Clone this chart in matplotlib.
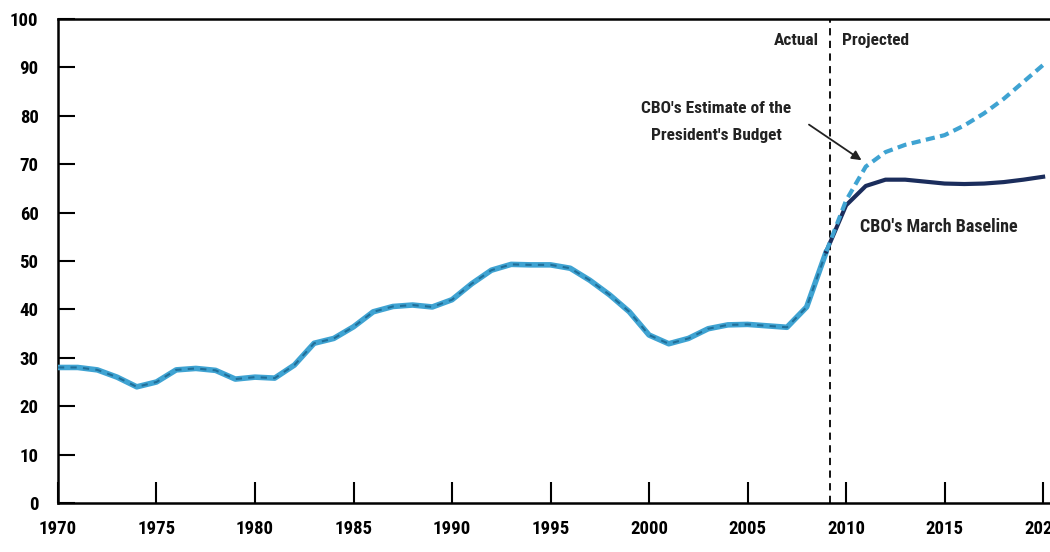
import matplotlib
matplotlib.use("Agg")
import matplotlib.pyplot as plt
from matplotlib import font_manager as fm

names = {f.name for f in fm.fontManager.ttflist}
narrow = [n for n in ("Liberation Sans Narrow", "Roboto Condensed", "Open Sans Condensed") if n in names]
plt.rcParams["font.family"] = narrow + ["DejaVu Sans"]
plt.rcParams["font.stretch"] = "condensed"

# ── data
hist_years = list(range(1970, 2010))
hist_vals = [28.0, 28.0, 27.5, 26.0, 24.0, 25.0, 27.5, 27.8, 27.4, 25.6,
             26.0, 25.8, 28.5, 33.0, 34.0, 36.4, 39.5, 40.6, 40.9, 40.5,
             42.0, 45.3, 48.1, 49.3, 49.2, 49.2, 48.5, 46.0, 43.0, 39.5,
             34.7, 32.9, 34.0, 36.0, 36.8, 36.9, 36.6, 36.3, 40.5, 52.0]

proj_years = list(range(2009, 2021))
baseline_vals = [52.0, 61.5, 65.5, 66.8, 66.8, 66.4, 66.0, 65.9, 66.0, 66.3, 66.8, 67.4]
president_vals = [52.0, 62.5, 69.5, 72.5, 74.0, 75.0, 76.0, 78.0, 80.5, 83.5, 87.0, 90.5]

x_ticks = [1970, 1975, 1980, 1985, 1990, 1995, 2000, 2005, 2010, 2015, 2020]
y_ticks = list(range(0, 101, 10))

NAVY = "#1b2d5c"
LIGHT = "#3fa3d2"

fig = plt.figure(figsize=(10.5, 5.52), dpi=100)
ax = fig.add_axes([0.0552, 0.0888, 0.9448, 0.8768])

# history: both series coincide
ax.plot(hist_years, hist_vals, color=LIGHT, lw=4.0, solid_capstyle="round", zorder=3)
ax.plot(hist_years, hist_vals, color="#1f6f9a", lw=1.5, ls=(0, (3, 3)), zorder=4)

ax.plot(proj_years, baseline_vals, color=NAVY, lw=3.0, zorder=4)
ax.plot(proj_years, president_vals, color=LIGHT, lw=3.0, ls=(0, (2.2, 1.3)), zorder=5)

ax.axvline(2009.2, color="black", lw=1.3, ls=(0, (4, 3)), zorder=2)

ax.set_xlim(1970, 2020.35)
ax.set_ylim(0, 100)
ax.set_xticks(x_ticks)
ax.set_yticks(y_ticks)

for s in ("top", "left", "bottom"):
    ax.spines[s].set_linewidth(1.8)
ax.spines["right"].set_visible(False)

ax.tick_params(axis="x", direction="in", length=15, width=1.5, pad=12,
               labelsize=13.5)
ax.tick_params(axis="y", direction="in", length=12, width=1.5, pad=14,
               labelsize=13.5)
for lab in ax.get_xticklabels() + ax.get_yticklabels():
    lab.set_fontweight("bold")

txt = dict(fontsize=12.5, fontweight="bold", color="#222222")
ax.text(2008.6, 95.5, "Actual", ha="right", va="center", **txt)
ax.text(2009.8, 95.5, "Projected", ha="left", va="center", **txt)
ax.text(2003.4, 78.8, "CBO's Estimate of the\nPresident's Budget", ha="center",
        va="center", linespacing=2.0, **txt)
ax.text(2010.7, 57, "CBO's March Baseline", ha="left", va="center",
        fontsize=13, fontweight="bold", color="#222222")

ax.annotate("", xy=(2010.9, 70.5), xytext=(2008.0, 78.5),
            arrowprops=dict(arrowstyle="-|>", color="#222222", lw=1.3,
                            mutation_scale=14))

fig.savefig("out.png", dpi=100)
